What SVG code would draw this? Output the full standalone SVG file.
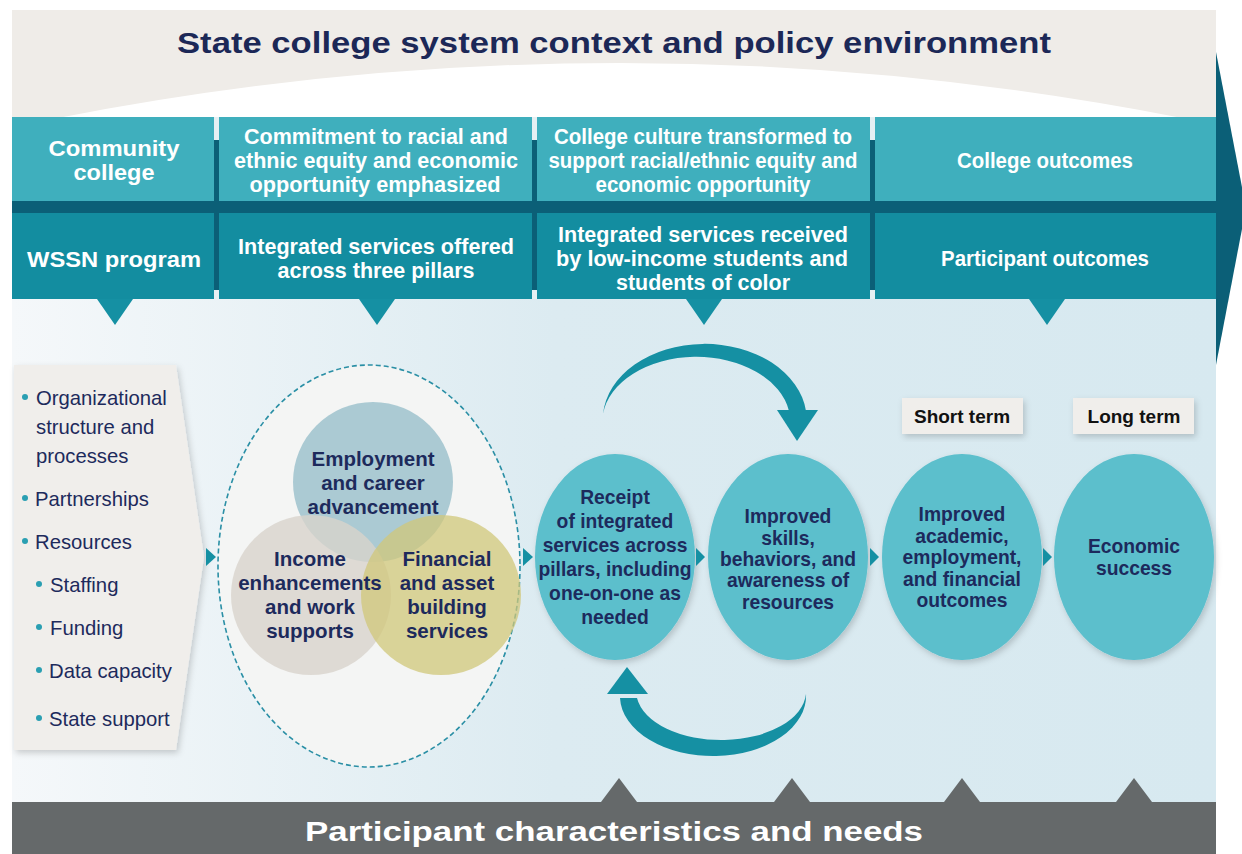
<svg xmlns="http://www.w3.org/2000/svg" width="1242" height="854" viewBox="0 0 1242 854">
<defs>
<linearGradient id="bg" x1="0" y1="0" x2="1" y2="0">
<stop offset="0" stop-color="#f5f8fa"/>
<stop offset="0.45" stop-color="#dcebf1"/>
<stop offset="1" stop-color="#d7e9f0"/>
</linearGradient>
<filter id="sh" x="-20%" y="-20%" width="140%" height="140%">
<feDropShadow dx="2" dy="3" stdDeviation="3" flood-color="#000" flood-opacity="0.18"/>
</filter>
<style>
.hd{font-family:"Liberation Sans",Arial,sans-serif;font-weight:bold;fill:#fff;text-anchor:middle;font-size:21.5px}
.nv{font-family:"Liberation Sans",Arial,sans-serif;font-weight:bold;fill:#1d2a5c;text-anchor:middle;font-size:19.3px}
.vn{font-size:20.5px}
.lst{font-family:"Liberation Sans",Arial,sans-serif;fill:#1d2a5c;font-size:20.3px}
.dot{fill:#2a9fb2}
.ov{fill:#5cbfcc;filter:url(#sh)}
.tri{fill:#1590a3}
.con{fill:#1590a3}
.lbl{fill:#f0eeeb;filter:url(#sh)}
.lt{font-family:"Liberation Sans",Arial,sans-serif;font-weight:bold;fill:#111;text-anchor:middle;font-size:19px}
</style>
</defs>
<rect width="1242" height="854" fill="#ffffff"/>
<rect x="12" y="117" width="1204" height="690" fill="url(#bg)"/>
<g id="context">
<rect x="12" y="10" width="1204" height="108" fill="#efece8"/>
<path d="M58,118 Q620,8 1182,118 Z" fill="#ffffff"/>
<text x="614" y="53" font-family="'Liberation Sans',Arial,sans-serif" font-weight="bold" font-size="30" fill="#1c2857" text-anchor="middle" textLength="874" lengthAdjust="spacingAndGlyphs">State college system context and policy environment</text>
</g>
<polygon points="1216,52 1246,208 1216,365" fill="#0b5f77"/>
<g id="header">
<rect x="12" y="117" width="1204" height="182" fill="#0b5f77"/>
<rect x="12" y="117" width="202" height="84" fill="#3fafbd"/>
<rect x="219" y="117" width="313" height="84" fill="#3fafbd"/>
<rect x="537" y="117" width="333" height="84" fill="#3fafbd"/>
<rect x="875" y="117" width="341" height="84" fill="#3fafbd"/>
<rect x="12" y="213" width="202" height="86" fill="#138da0"/>
<rect x="219" y="213" width="313" height="86" fill="#138da0"/>
<rect x="537" y="213" width="333" height="86" fill="#138da0"/>
<rect x="875" y="213" width="341" height="86" fill="#138da0"/>
<rect x="214" y="117" width="5" height="84" fill="#e6f0f3"/>
<rect x="532" y="117" width="5" height="84" fill="#e6f0f3"/>
<rect x="870" y="117" width="5" height="84" fill="#e6f0f3"/>
<rect x="214" y="213" width="5" height="86" fill="#e6f0f3"/>
<rect x="532" y="213" width="5" height="86" fill="#e6f0f3"/>
<rect x="870" y="213" width="5" height="86" fill="#e6f0f3"/>
<rect x="214" y="140" width="5" height="150" fill="#0b5f77"/>
<rect x="532" y="140" width="5" height="150" fill="#0b5f77"/>
<rect x="870" y="140" width="5" height="150" fill="#0b5f77"/>
</g>
<g id="h-community"><text class="hd" font-size="23" x="114" y="156" textLength="131" lengthAdjust="spacingAndGlyphs">Community</text><text class="hd" font-size="23" x="114" y="180" textLength="81" lengthAdjust="spacingAndGlyphs">college</text></g>
<g id="h-commitment"><text class="hd" x="376" y="144" textLength="264" lengthAdjust="spacingAndGlyphs">Commitment to racial and</text><text class="hd" x="376" y="168" textLength="284" lengthAdjust="spacingAndGlyphs">ethnic equity and economic</text><text class="hd" x="375" y="192" textLength="251" lengthAdjust="spacingAndGlyphs">opportunity emphasized</text></g>
<g id="h-culture"><text class="hd" x="703" y="144" textLength="298" lengthAdjust="spacingAndGlyphs">College culture transformed to</text><text class="hd" x="703" y="168" textLength="309" lengthAdjust="spacingAndGlyphs">support racial/ethnic equity and</text><text class="hd" x="703" y="192" textLength="215" lengthAdjust="spacingAndGlyphs">economic opportunity</text></g>
<g id="h-college-outcomes"><text class="hd" x="1045" y="168" textLength="176" lengthAdjust="spacingAndGlyphs">College outcomes</text></g>
<g id="h-wssn"><text class="hd" font-size="24" x="114" y="267" textLength="174" lengthAdjust="spacingAndGlyphs">WSSN program</text></g>
<g id="h-offered"><text class="hd" x="376" y="254" textLength="276" lengthAdjust="spacingAndGlyphs">Integrated services offered</text><text class="hd" x="376" y="278" textLength="197" lengthAdjust="spacingAndGlyphs">across three pillars</text></g>
<g id="h-received"><text class="hd" x="703" y="242" textLength="290" lengthAdjust="spacingAndGlyphs">Integrated services received</text><text class="hd" x="702" y="266" textLength="292" lengthAdjust="spacingAndGlyphs">by low-income students and</text><text class="hd" x="703" y="290" textLength="174" lengthAdjust="spacingAndGlyphs">students of color</text></g>
<g id="h-participant-outcomes"><text class="hd" x="1045" y="266" textLength="208" lengthAdjust="spacingAndGlyphs">Participant outcomes</text></g>
<g id="participant">
<polygon points="601,802 619,778 637,802" fill="#65696a"/>
<polygon points="774,802 792,778 810,802" fill="#65696a"/>
<polygon points="944,802 962,778 980,802" fill="#65696a"/>
<polygon points="1116,802 1134,778 1152,802" fill="#65696a"/>
<rect x="12" y="802" width="1204" height="52" fill="#65696a"/>
<text x="614" y="841" font-family="'Liberation Sans',Arial,sans-serif" font-weight="bold" font-size="28" fill="#fff" text-anchor="middle" textLength="618" lengthAdjust="spacingAndGlyphs">Participant characteristics and needs</text>
</g>
<g id="inputs">
<polygon points="14,365 176,365 204,557 176,750 14,750" fill="#f0eeeb" filter="url(#sh)"/>
<circle class="dot" cx="25" cy="397" r="3"/><text class="lst" x="36" y="405">Organizational</text>
<text class="lst" x="36" y="434">structure and</text>
<text class="lst" x="36" y="463">processes</text>
<circle class="dot" cx="25" cy="498" r="3"/><text class="lst" x="35" y="506">Partnerships</text>
<circle class="dot" cx="25" cy="541" r="3"/><text class="lst" x="35" y="549">Resources</text>
<circle class="dot" cx="39" cy="584" r="3"/><text class="lst" x="50" y="592">Staffing</text>
<circle class="dot" cx="39" cy="627" r="3"/><text class="lst" x="50" y="635">Funding</text>
<circle class="dot" cx="39" cy="670" r="3"/><text class="lst" x="49" y="678">Data capacity</text>
<circle class="dot" cx="39" cy="718" r="3"/><text class="lst" x="49" y="726">State support</text>
</g>
<g id="pillars">
<ellipse cx="369" cy="566" rx="151" ry="201" fill="#f4f5f4" stroke="#2a8fa5" stroke-width="1.6" stroke-dasharray="5,3"/>
<circle cx="373" cy="482" r="80" fill="#98bfca" fill-opacity="0.8"/>
<circle cx="311" cy="595" r="80" fill="#d8d3cc" fill-opacity="0.8"/>
<circle cx="441" cy="595" r="80" fill="#d0c77a" fill-opacity="0.75"/>
<text class="nv vn" x="373" y="466">Employment</text><text class="nv vn" x="373" y="490">and career</text><text class="nv vn" x="373" y="514">advancement</text>
<text class="nv vn" x="310" y="566">Income</text><text class="nv vn" x="310" y="590">enhancements</text><text class="nv vn" x="310" y="614">and work</text><text class="nv vn" x="310" y="638">supports</text>
<text class="nv vn" x="447" y="566">Financial</text><text class="nv vn" x="447" y="590">and asset</text><text class="nv vn" x="447" y="614">building</text><text class="nv vn" x="447" y="638">services</text>
</g>
<g id="receipt">
<ellipse class="ov" cx="615" cy="557" rx="80" ry="103"/>
<text class="nv" x="615" y="504">Receipt</text><text class="nv" x="615" y="528">of integrated</text><text class="nv" x="615" y="552">services across</text><text class="nv" x="615" y="576">pillars, including</text><text class="nv" x="615" y="600">one-on-one as</text><text class="nv" x="615" y="624">needed</text>
</g>
<g id="skills">
<ellipse class="ov" cx="788" cy="557" rx="80" ry="103"/>
<text class="nv" x="788" y="523">Improved</text><text class="nv" x="788" y="545">skills,</text><text class="nv" x="788" y="566">behaviors, and</text><text class="nv" x="788" y="587">awareness of</text><text class="nv" x="788" y="609">resources</text>
</g>
<g id="short-term">
<rect class="lbl" x="902" y="398" width="121" height="36"/>
<text class="lt" x="962" y="423">Short term</text>
<ellipse class="ov" cx="962" cy="557" rx="80" ry="103"/>
<text class="nv" x="962" y="521">Improved</text><text class="nv" x="962" y="543">academic,</text><text class="nv" x="962" y="564">employment,</text><text class="nv" x="962" y="586">and financial</text><text class="nv" x="962" y="607">outcomes</text>
</g>
<g id="long-term">
<rect class="lbl" x="1073" y="398" width="121" height="36"/>
<text class="lt" x="1134" y="423">Long term</text>
<ellipse class="ov" cx="1134" cy="557" rx="80" ry="103"/>
<text class="nv" x="1134" y="553">Economic</text><text class="nv" x="1134" y="575">success</text>
</g>
<g id="connectors">
<polygon class="tri" points="97,299 133,299 115,325"/>
<polygon class="tri" points="359,299 395,299 377,325"/>
<polygon class="tri" points="686,299 722,299 704,325"/>
<polygon class="tri" points="1029,299 1065,299 1047,325"/>
<polygon class="con" points="206,548 216,557 206,566"/>
<polygon class="con" points="523,548 533,557 523,566"/>
<polygon class="con" points="696,548 705,557 696,566"/>
<polygon class="con" points="870,548 879,557 870,566"/>
<polygon class="con" points="1043,548 1052,557 1043,566"/>
<path class="con" d="M603,414 A102 76 0 0 1 806,411 L789,411 A94 65 0 0 0 603,414 Z"/>
<polygon class="con" points="777,410 818,410 797,441"/>
<path class="con" d="M806,694 A93 60 0 0 1 620,698 L637,698 A85 49 0 0 0 806,694 Z"/>
<polygon class="con" points="607,694 648,694 627,667"/>
</g>
</svg>
